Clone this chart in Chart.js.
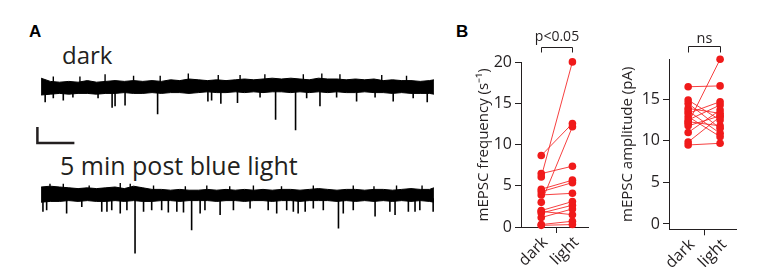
<!DOCTYPE html>
<html lang="en">
<head>
<meta charset="UTF-8">
<title>mEPSC before and after blue light</title>
<script src="https://cdn.jsdelivr.net/npm/chart.js@4.4.1/dist/chart.umd.min.js"></script>
<style>
  body {
    margin: 0;
    width: 761px;
    height: 267px;
    position: relative;
    overflow: hidden;
    background: #fff;
    font-family: 'Open Sans', sans-serif;
    color: #231f20;
  }
  canvas { position: absolute; }
  .lbl { position: absolute; line-height: 1; white-space: nowrap; }
  .panel { font-family: 'Liberation Sans', Arial, sans-serif; font-weight: bold; font-size: 17px; color: #000; }
  .cond { font-size: 24px; }
  #traceDark { left: 30px; top: 71px; }
  #traceLight { left: 30px; top: 179px; }
  #freqChart { left: 455px; top: 20px; }
  #ampChart { left: 600px; top: 20px; }
</style>
</head>
<body>
  <div class="lbl panel" style="left:29px; top:23px;">A</div>
  <div class="lbl panel" style="left:456px; top:23px;">B</div>
  <div class="lbl cond" style="left:62px; top:43px;">dark</div>
  <div class="lbl cond" style="left:60px; top:153px; font-size:25px;">5 min post blue light</div>

  <canvas id="traceDark" width="405" height="80"></canvas>
  <canvas id="traceLight" width="405" height="80"></canvas>
  <canvas id="freqChart" width="140" height="247"></canvas>
  <canvas id="ampChart" width="161" height="247"></canvas>

<script>
// ---- panel A: example traces (time in s, current in pA relative to baseline) ----
const bandTimes = [0, 0.25, 0.5, 0.75, 1, 1.25, 1.5, 1.75, 2, 2.25, 2.5, 2.75, 3, 3.25, 3.5, 3.75,
  4, 4.25, 4.5, 4.75, 5, 5.25, 5.5, 5.75, 6, 6.25, 6.5, 6.75, 7, 7.25, 7.5, 7.75,
  8, 8.25, 8.5, 8.75, 9, 9.25, 9.5, 9.75, 10, 10.25, 10.5, 10.62];

const darkUpper = [11, 7, 6, 7, 6, 8, 6, 7, 8, 7, 8, 7, 8, 7, 9, 8, 10, 9, 8, 9, 8, 9,
  10, 9, 10, 11, 10, 11, 10, 9, 11, 10, 10, 9, 10, 9, 10, 8, 9, 8, 8, 7, 8, 9];
const darkLower = [-10, -9, -8, -9, -8, -8, -9, -8, -8, -7, -8, -8, -7, -8, -7, -7, -8, -7, -6, -7, -7, -6,
  -7, -6, -7, -6, -6, -7, -6, -7, -6, -7, -6, -7, -7, -6, -7, -7, -8, -7, -8, -8, -8, -9];
const darkEventTimes = [0.11, 0.33, 0.6, 0.86, 1.54, 1.92, 2.0, 2.27, 3.15, 4.51, 4.61, 4.86, 5.31, 5.92,
  6.34, 6.88, 7.18, 7.54, 7.99, 8.53, 9.03, 9.52, 10.06, 10.44];
const darkEventAmps = [-19, -14, -17, -13, -14, -26, -24, -23, -34, -18, -17, -21, -20, -13,
  -41, -54, -14, -24, -13, -18, -13, -18, -14, -19];
const darkNoiseTimes = [0.33, 1.05, 1.73, 2.5, 3.22, 3.98, 4.79, 5.38, 6.05, 7.09, 7.59, 8.08, 9.21, 9.88];
const darkNoisePeaks = [13, 13, 16, 14, 14, 17, 15, 15, 16, 16, 17, 16, 15, 14];

const lightUpper = [10, 11, 10, 9, 8, 9, 8, 9, 10, 8, 11, 9, 7, 7, 6, 7, 6, 6, 7, 6, 7, 6,
  7, 6, 7, 6, 7, 7, 6, 7, 8, 7, 6, 7, 7, 6, 7, 7, 6, 7, 8, 7, 7, 9];
const lightLower = [-9, -8, -8, -7, -8, -7, -8, -8, -7, -8, -7, -8, -8, -7, -7, -8, -7, -7, -7, -8, -7, -7,
  -8, -7, -7, -8, -7, -7, -8, -7, -7, -7, -8, -7, -8, -7, -8, -7, -8, -7, -8, -7, -8, -9];
const lightEventTimes = [0.05, 0.15, 0.69, 1.1, 1.64, 1.78, 1.91, 2.14, 2.32, 2.54, 2.77, 2.99, 3.26, 3.44,
  3.67, 3.85, 4.07, 4.3, 4.43, 4.84, 5.2, 5.65, 6.14, 6.37, 6.64, 6.82, 6.95, 7.14, 7.36, 7.63,
  8.04, 8.17, 8.44, 9.03, 9.43, 9.57, 9.93, 10.11, 10.24, 10.6];
const lightEventAmps = [-21, -19, -23, -15, -21, -21, -19, -23, -19, -73, -21, -19, -19, -22,
  -21, -22, -44, -23, -19, -25, -19, -17, -19, -23, -19, -21, -23, -21, -17, -19,
  -42, -23, -19, -27, -21, -25, -21, -21, -19, -21];
const lightNoiseTimes = [0.24, 0.6, 1.3, 2.14, 2.41, 3.04, 3.9, 4.48, 5.1, 5.74, 6.5, 7.36, 8.44, 9.0, 9.61, 10.3];
const lightNoisePeaks = [14, 14, 12, 15, 14, 12, 11, 12, 11, 12, 11, 12, 12, 11, 12, 12];

// scale bar: 1 s, 20 pA
const scaleBarSeconds = 1;
const scaleBarPA = 20;

// ---- panel B: paired values ----
const conditions = ['dark', 'light'];
const freqDark  = [6.1, 8.7, 3.0, 6.5, 4.6, 4.3, 3.9, 2.0, 1.7, 1.15, 1.9, 0.3, 0.2];
const freqLight = [20.1, 12.6, 12.2, 7.4, 5.7, 5.4, 4.1, 3.1, 2.65, 2.2, 1.5, 0.7, 0.3];
const ampDark   = [16.5, 12.1, 14.9, 14.5, 13.9, 13.3, 12.9, 12.5, 11.0, 9.85, 9.5, 13.6, 12.3, 11.8];
const ampLight  = [16.6, 19.8, 12.5, 11.5, 13.3, 14.7, 10.5, 14.3, 13.7, 12.9, 9.7, 10.9, 11.8, 13.0];
const freqTicks = [0, 5, 10, 15, 20];
const ampTicks  = [0, 5, 10, 15];

const ink = '#231f20';
const red = '#f01a1a';

function segments(times, ends, from) {
  return times.flatMap((t, i) => [{x: t, y: from}, {x: t, y: ends[i]}, {x: t, y: null}]);
}

function traceChart(id, upper, lower, evTimes, evAmps, noiseTimes, noisePeaks, withScaleBar) {
  const datasets = [
    {
      data: bandTimes.map((t, i) => ({x: t, y: upper[i]})),
      fill: '+1', backgroundColor: '#000', borderColor: '#000', borderWidth: 1, pointRadius: 0
    },
    {
      data: bandTimes.map((t, i) => ({x: t, y: lower[i]})),
      borderColor: '#000', borderWidth: 1, pointRadius: 0
    },
    {
      data: segments(evTimes, evAmps, -4),
      borderColor: '#000', borderWidth: 1.6, pointRadius: 0, spanGaps: false
    },
    {
      data: segments(noiseTimes, noisePeaks, 4),
      borderColor: '#000', borderWidth: 1.4, pointRadius: 0, spanGaps: false
    }
  ];
  if (withScaleBar) {
    const t0 = -0.1, i0 = -50;
    datasets.push({
      data: [{x: t0, y: i0}, {x: t0, y: i0 - scaleBarPA}, {x: t0 + scaleBarSeconds, y: i0 - scaleBarPA}],
      borderColor: ink, borderWidth: 2.5, pointRadius: 0, borderJoinStyle: 'miter'
    });
  }
  return new Chart(document.getElementById(id), {
    type: 'line',
    data: { datasets },
    options: {
      responsive: false,
      animation: false,
      events: [],
      plugins: { legend: { display: false }, tooltip: { enabled: false } },
      scales: {
        x: { type: 'linear', min: -0.3, max: 10.65, display: false },
        y: { min: -80, max: 20, display: false }
      }
    }
  });
}

traceChart('traceDark', darkUpper, darkLower, darkEventTimes, darkEventAmps, darkNoiseTimes, darkNoisePeaks, true);
traceChart('traceLight', lightUpper, lightLower, lightEventTimes, lightEventAmps, lightNoiseTimes, lightNoisePeaks, false);

// significance bracket above the two conditions
const bracketPlugin = {
  id: 'bracket',
  afterDraw(chart, args, opts) {
    const {ctx, scales: {x}} = chart;
    const x0 = Math.round(x.getPixelForValue(0)) + 0.5;
    const x1 = Math.round(x.getPixelForValue(1)) + 0.5;
    ctx.save();
    ctx.strokeStyle = ink;
    ctx.lineWidth = 1;
    ctx.beginPath();
    ctx.moveTo(x0, opts.y + opts.leg);
    ctx.lineTo(x0, opts.y);
    ctx.lineTo(x1, opts.y);
    ctx.lineTo(x1, opts.y + opts.leg);
    ctx.stroke();
    ctx.fillStyle = ink;
    ctx.font = opts.font;
    ctx.textAlign = 'center';
    ctx.textBaseline = 'alphabetic';
    ctx.fillText(opts.text, (x0 + x1) / 2, opts.textY);
    ctx.restore();
  }
};

const xTickValues = [0, 0.5, 1];

function pairChart(id, darkVals, lightVals, cfg) {
  const datasets = darkVals.map((d, i) => ({
    data: [{x: 0, y: d}, {x: 1, y: lightVals[i]}],
    borderColor: 'rgba(245, 30, 30, 0.85)',
    borderWidth: 1,
    pointRadius: 3.8,
    pointBackgroundColor: red,
    pointBorderWidth: 0,
    clip: false
  }));
  const tickFont = { family: 'Open Sans', size: 16 };
  return new Chart(document.getElementById(id), {
    type: 'line',
    data: { datasets },
    plugins: [bracketPlugin],
    options: {
      responsive: false,
      animation: false,
      events: [],
      layout: { padding: cfg.padding },
      plugins: {
        legend: { display: false },
        tooltip: { enabled: false },
        bracket: cfg.bracket
      },
      scales: {
        x: {
          type: 'linear', min: cfg.xMin, max: cfg.xMax,
          afterBuildTicks: s => { s.ticks = xTickValues.map(v => ({value: v})); },
          afterFit: s => { s.height = cfg.xHeight; },
          grid: {
            drawOnChartArea: false, tickLength: 6,
            tickColor: c => (c.tick && c.tick.value === 0.5) ? ink : 'rgba(0,0,0,0)'
          },
          border: { color: ink, width: 1 },
          ticks: {
            autoSkip: false, minRotation: 45, maxRotation: 45, padding: 0, labelOffset: 4,
            color: ink, font: tickFont,
            callback: v => v === 0 ? conditions[0] : (v === 1 ? conditions[1] : '')
          }
        },
        y: {
          min: cfg.yMin, max: cfg.yMax,
          afterBuildTicks: s => { s.ticks = cfg.ticks.map(v => ({value: v})); },
          afterFit: s => { s.width = cfg.yWidth; },
          grid: { drawOnChartArea: false, tickLength: 6, tickColor: ink },
          border: { color: ink, width: 1 },
          ticks: { padding: 3, color: ink, font: tickFont },
          title: {
            display: true, text: cfg.title, color: ink,
            font: { family: 'Open Sans', size: 15 },
            padding: { top: cfg.titlePad, bottom: 0 }
          }
        }
      }
    }
  });
}

pairChart('freqChart', freqDark, freqLight, {
  padding: { left: 0, right: 7, top: 42.7, bottom: 0 },
  xMin: -0.65, xMax: 1.5, xHeight: 40,
  yMin: 0, yMax: 20, ticks: freqTicks, yWidth: 66,
  title: 'mEPSC frequency (s\u207B\u00B9)', titlePad: 20,
  bracket: { text: 'p<0.05', y: 27.5, leg: 5, textY: 21, font: '14px "Open Sans"' }
});

pairChart('ampChart', ampDark, ampLight, {
  padding: { left: 0, right: 24.3, top: 39.3, bottom: 0 },
  xMin: -0.6, xMax: 1.52, xHeight: 37.7,
  yMin: -0.64, yMax: 19.8, ticks: ampTicks, yWidth: 69,
  title: 'mEPSC amplitude (pA)', titlePad: 19,
  bracket: { text: 'ns', y: 26.5, leg: 6, textY: 23.3, font: '14.5px "Open Sans"' }
});
</script>
</body>
</html>
